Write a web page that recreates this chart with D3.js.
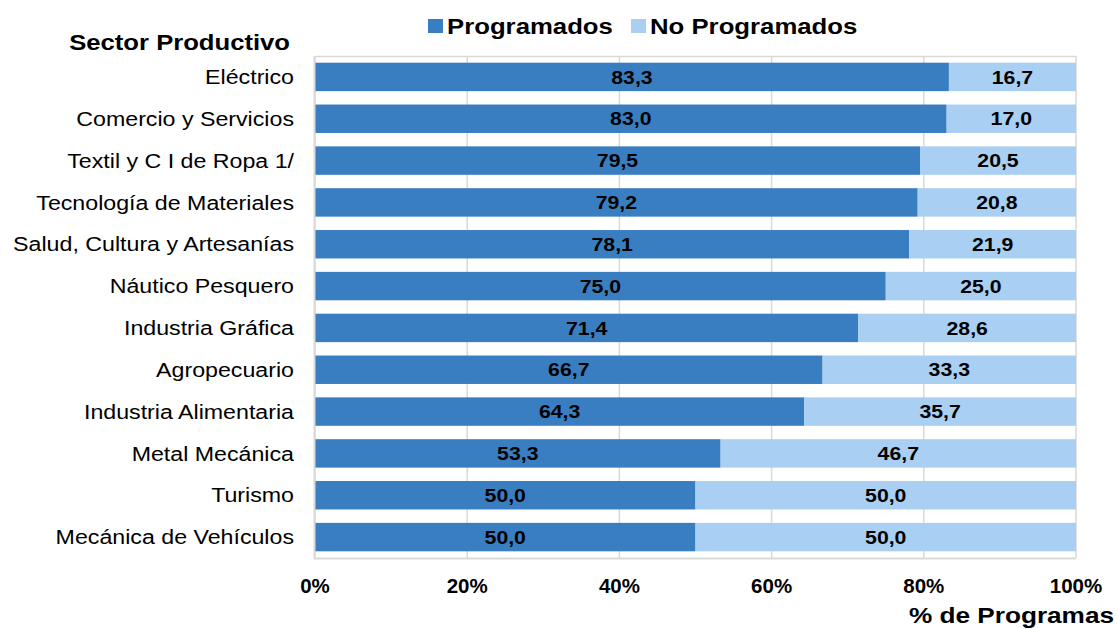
<!DOCTYPE html>
<html>
<head>
<meta charset="utf-8">
<script src="https://cdn.jsdelivr.net/npm/d3@7"></script>
<style>
  body { margin: 0; background: #fff; }
  text { font-family: "Liberation Sans", Arial, sans-serif; }
</style>
</head>
<body>
<div id="chart"></div>
<script>
var sectores = ["Eléctrico", "Comercio y Servicios", "Textil y C I de Ropa 1/", "Tecnología de Materiales",
    "Salud, Cultura y Artesanías", "Náutico Pesquero", "Industria Gráfica", "Agropecuario",
    "Industria Alimentaria", "Metal Mecánica", "Turismo", "Mecánica de Vehículos"];
var programados = [83.3, 83.0, 79.5, 79.2, 78.1, 75.0, 71.4, 66.7, 64.3, 53.3, 50.0, 50.0];
var noProgramados = [16.7, 17.0, 20.5, 20.8, 21.9, 25.0, 28.6, 33.3, 35.7, 46.7, 50.0, 50.0];
var ticks = [0, 20, 40, 60, 80, 100];
var series = ["Programados", "No Programados"];

var width = 1118, height = 629;
var colors = { "Programados": "#3a7ec2", "No Programados": "#a9cff3" };

var svg = d3.select("#chart").append("svg")
    .attr("width", width)
    .attr("height", height);

var x = d3.scaleLinear().domain([0, 100]).range([315, 1076]);
var y = d3.scaleBand().domain(sectores).range([56, 558]).paddingInner(0.32).paddingOuter(0.16);

// text in the original is a bit wider than it is tall, so stretch it
function label(sel, px, py, sx) {
    return sel.append("text")
        .attr("transform", "translate(" + px + "," + py + ") scale(" + sx + ",1)");
}

// grid lines
svg.selectAll("line.grid")
    .data(ticks)
    .enter()
    .append("line")
    .attr("class", "grid")
    .attr("x1", function (d) { return x(d); })
    .attr("x2", function (d) { return x(d); })
    .attr("y1", 56)
    .attr("y2", 558)
    .style("stroke", "#d9d9d9")
    .style("stroke-width", 1.5);

svg.append("line")
    .attr("x1", x(0)).attr("x2", x(100))
    .attr("y1", 56.5).attr("y2", 56.5)
    .style("stroke", "#d9d9d9").style("stroke-width", 1.5);

var rows = sectores.map(function (s, i) {
    return { sector: s, p: programados[i], n: noProgramados[i] };
});

// Programados bars
svg.selectAll("rect.prog")
    .data(rows)
    .enter()
    .append("rect")
    .attr("class", "prog")
    .attr("x", x(0))
    .attr("y", function (d) { return y(d.sector); })
    .attr("width", function (d) { return x(d.p) - x(0); })
    .attr("height", y.bandwidth())
    .style("fill", colors["Programados"]);

// No programados bars
svg.selectAll("rect.noprog")
    .data(rows)
    .enter()
    .append("rect")
    .attr("class", "noprog")
    .attr("x", function (d) { return x(d.p); })
    .attr("y", function (d) { return y(d.sector); })
    .attr("width", function (d) { return x(d.p + d.n) - x(d.p); })
    .attr("height", y.bandwidth())
    .style("fill", colors["No Programados"]);

// value labels
function fmt(v) { return v.toFixed(1).replace(".", ","); }

rows.forEach(function (d) {
    var cy = y(d.sector) + y.bandwidth() / 2;
    label(svg, x(d.p / 2), cy, 1.15)
        .attr("dy", "0.36em")
        .attr("text-anchor", "middle")
        .style("font-size", "18.5px")
        .style("font-weight", "bold")
        .text(fmt(d.p));
    label(svg, x(d.p + d.n / 2), cy, 1.15)
        .attr("dy", "0.36em")
        .attr("text-anchor", "middle")
        .style("font-size", "18.5px")
        .style("font-weight", "bold")
        .text(fmt(d.n));
});

// left and bottom frame
svg.append("line")
    .attr("x1", x(0) - 0.5).attr("x2", x(0) - 0.5)
    .attr("y1", 56).attr("y2", 559)
    .style("stroke", "#d9d9d9").style("stroke-width", 2);
svg.append("line")
    .attr("x1", x(0) - 1).attr("x2", x(100))
    .attr("y1", 558.5).attr("y2", 558.5)
    .style("stroke", "#d9d9d9").style("stroke-width", 2);

// category labels
sectores.forEach(function (s) {
    label(svg, 294, y(s) + y.bandwidth() / 2, 1.16)
        .attr("dy", "0.36em")
        .attr("text-anchor", "end")
        .style("font-size", "20px")
        .style("fill", "#000")
        .text(s);
});

// x tick labels
svg.selectAll("text.tick")
    .data(ticks)
    .enter()
    .append("text")
    .attr("class", "tick")
    .attr("x", function (d) { return x(d); })
    .attr("y", 593)
    .attr("text-anchor", "middle")
    .style("font-size", "20.5px")
    .style("font-weight", "bold")
    .text(function (d) { return d + "%"; });

label(svg, 1114, 623, 1.19)
    .attr("text-anchor", "end")
    .style("font-size", "22px")
    .style("font-weight", "bold")
    .text("% de Programas");

label(svg, 290, 50, 1.14)
    .attr("text-anchor", "end")
    .style("font-size", "22.5px")
    .style("font-weight", "bold")
    .text("Sector Productivo");

// legend
var legendPos = [
    { name: "Programados", x: 428 },
    { name: "No Programados", x: 631 }
];
legendPos.forEach(function (d) {
    svg.append("rect")
        .attr("x", d.x)
        .attr("y", 19)
        .attr("width", 15)
        .attr("height", 14)
        .style("fill", colors[d.name]);
    label(svg, d.x + 19, 34, 1.17)
        .style("font-size", "22px")
        .style("font-weight", "bold")
        .text(d.name);
});
</script>
</body>
</html>
